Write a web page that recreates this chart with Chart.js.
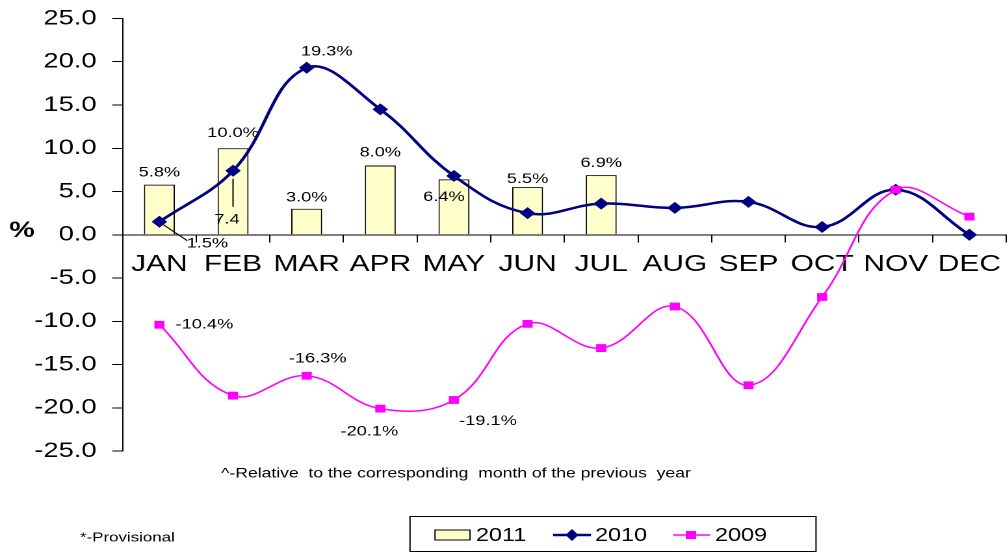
<!DOCTYPE html>
<html lang="en">
<head>
<meta charset="UTF-8">
<title>Monthly change relative to previous year</title>
<script src="https://cdn.jsdelivr.net/npm/chart.js"></script>
<style>
    html, body { margin: 0; padding: 0; background: #ffffff; overflow: hidden; }
    #wrap { width: 1008px; height: 553px; overflow: hidden; }
    /* the source picture is stretched sideways, so draw narrower and widen it */
    #chart { transform: scaleX(1.3); transform-origin: 0 0; }
</style>
</head>
<body>
<div id="wrap"><canvas id="chart" width="780" height="553"></canvas></div>
<script>
var STRETCH = 1.3;
var FONT = "'Liberation Sans', Arial, sans-serif";

var months = ['JAN', 'FEB', 'MAR', 'APR', 'MAY', 'JUN', 'JUL', 'AUG', 'SEP', 'OCT', 'NOV', 'DEC'];
var seriesNames = ['2011', '2010', '2009'];
var values2011 = [5.8, 10.0, 3.0, 8.0, 6.4, 5.5, 6.9, null, null, null, null, null];
var values2010 = [1.5, 7.4, 19.3, 14.5, 6.8, 2.5, 3.6, 3.1, 3.8, 0.9, 5.2, 0.0];
var values2009 = [-10.4, -18.6, -16.3, -20.1, -19.1, -10.3, -13.1, -8.3, -17.4, -7.2, 5.2, 2.1];
var yMin = -25, yMax = 25, yStep = 5;

var footNote = '^-Relative  to the corresponding  month of the previous  year';
var provisionalNote = '*-Provisional';

// which values get a text label; offsets are in picture pixels from the mark
var valueLabels = [
    { ds: 0, i: 0, dx: 0, dy: -12 },
    { ds: 0, i: 1, dx: 0, dy: -15 },
    { ds: 0, i: 2, dx: 0, dy: -11 },
    { ds: 0, i: 3, dx: 0, dy: -13 },
    { ds: 0, i: 4, dx: -10, dy: 18 },
    { ds: 0, i: 5, dx: 0, dy: -8 },
    { ds: 0, i: 6, dx: 0, dy: -12 },
    { ds: 1, i: 0, dx: 48, dy: 22, leader: [4, 3, 28, 19] },
    { ds: 1, i: 1, dx: -6, dy: 49, pct: false, leader: [0, 8, 0, 36] },
    { ds: 1, i: 2, dx: 20, dy: -16 },
    { ds: 2, i: 0, dx: 45, dy: 0 },
    { ds: 2, i: 2, dx: 11, dy: -17 },
    { ds: 2, i: 3, dx: -11, dy: 23 },
    { ds: 2, i: 4, dx: 34, dy: 21 }
];

var labelPlugin = {
    id: 'valueLabels',
    afterDatasetsDraw: function (chart) {
        var ctx = chart.ctx;
        ctx.save();
        ctx.font = '14px ' + FONT;
        ctx.fillStyle = '#000';
        ctx.strokeStyle = '#000';
        ctx.lineWidth = 1;
        ctx.textAlign = 'center';
        ctx.textBaseline = 'middle';
        valueLabels.forEach(function (l) {
            var el = chart.getDatasetMeta(l.ds).data[l.i];
            var v = chart.data.datasets[l.ds].data[l.i];
            var txt = v.toFixed(1) + (l.pct === false ? '' : '%');
            if (l.leader) {
                ctx.beginPath();
                ctx.moveTo(el.x + l.leader[0] / STRETCH, el.y + l.leader[1]);
                ctx.lineTo(el.x + l.leader[2] / STRETCH, el.y + l.leader[3]);
                ctx.stroke();
            }
            ctx.fillText(txt, el.x + l.dx / STRETCH, el.y + l.dy);
        });
        ctx.restore();
    }
};

var extrasPlugin = {
    id: 'extras',
    afterDraw: function (chart) {
        var ctx = chart.ctx;
        var ds = chart.data.datasets;
        var s = STRETCH;
        ctx.save();
        ctx.fillStyle = '#000';

        // axis title
        ctx.font = 'bold 22px ' + FONT;
        ctx.textAlign = 'center';
        ctx.textBaseline = 'middle';
        ctx.fillText('%', 22 / s, 231);

        // notes
        ctx.font = '13.5px ' + FONT;
        ctx.fillText(footNote, 456 / s, 474);
        ctx.font = '13px ' + FONT;
        ctx.textAlign = 'left';
        ctx.fillText(provisionalNote, 80 / s, 538);

        // legend box
        ctx.strokeStyle = '#000';
        ctx.lineWidth = 1;
        ctx.strokeRect(410 / s, 516.5, 406 / s, 35);
        ctx.font = '18px ' + FONT;
        ctx.textBaseline = 'middle';
        var cy = 535;

        ctx.fillStyle = ds[0].backgroundColor;
        ctx.fillRect(435 / s, cy - 5, 35 / s, 10);
        ctx.strokeRect(435 / s, cy - 5, 35 / s, 10);
        ctx.fillStyle = '#000';
        ctx.fillText(ds[0].label, 476 / s, cy + 1);

        ctx.strokeStyle = ds[1].borderColor;
        ctx.lineWidth = 2.5;
        ctx.beginPath();
        ctx.moveTo(553 / s, cy); ctx.lineTo(591 / s, cy); ctx.stroke();
        ctx.fillStyle = ds[1].borderColor;
        ctx.beginPath();
        ctx.moveTo(572 / s, cy - 6); ctx.lineTo(572 / s + 5, cy);
        ctx.lineTo(572 / s, cy + 6); ctx.lineTo(572 / s - 5, cy);
        ctx.closePath(); ctx.fill();
        ctx.fillStyle = '#000';
        ctx.fillText(ds[1].label, 595 / s, cy + 1);

        ctx.strokeStyle = ds[2].borderColor;
        ctx.lineWidth = 1.5;
        ctx.beginPath();
        ctx.moveTo(673 / s, cy); ctx.lineTo(710 / s, cy); ctx.stroke();
        ctx.fillStyle = ds[2].borderColor;
        ctx.fillRect(691 / s - 4, cy - 4, 8, 8);
        ctx.fillStyle = '#000';
        ctx.fillText(ds[2].label, 715 / s, cy + 1);

        ctx.restore();
    }
};

new Chart(document.getElementById('chart'), {
    type: 'bar',
    data: {
        labels: months,
        datasets: [{
            type: 'bar',
            label: seriesNames[0],
            data: values2011,
            backgroundColor: '#FFFFCC',
            borderColor: '#000000',
            borderWidth: 1,
            categoryPercentage: 1.0,
            barPercentage: 0.42,
            order: 2
        }, {
            type: 'line',
            label: seriesNames[1],
            data: values2010,
            borderColor: '#000080',
            backgroundColor: '#000080',
            borderWidth: 2.5,
            tension: 0.4,
            pointStyle: 'rectRot',
            pointRadius: 6,
            pointBorderWidth: 0,
            order: 1
        }, {
            type: 'line',
            label: seriesNames[2],
            data: values2009,
            borderColor: '#FF00FF',
            backgroundColor: '#FF00FF',
            borderWidth: 1.5,
            tension: 0.4,
            pointStyle: 'rect',
            pointRadius: 5.5,
            pointBorderWidth: 0,
            order: 0
        }]
    },
    options: {
        responsive: false,
        devicePixelRatio: 2,
        animation: false,
        layout: { padding: { top: 18.5, bottom: 102, left: 0, right: 0 } },
        plugins: {
            legend: { display: false },
            tooltip: { enabled: false }
        },
        scales: {
            x: {
                type: 'category',
                position: { y: 0 },
                offset: true,
                grid: { display: true, drawOnChartArea: false, offset: true, tickLength: 7, color: '#000' },
                border: { display: true, color: '#000', width: 1 },
                ticks: {
                    color: '#000',
                    font: { family: FONT, size: 23 },
                    padding: 9,
                    maxRotation: 0,
                    autoSkip: false
                }
            },
            y: {
                min: yMin,
                max: yMax,
                grid: { display: true, drawOnChartArea: false, tickLength: 8, color: '#000' },
                border: { display: true, color: '#000', width: 1 },
                ticks: {
                    stepSize: yStep,
                    color: '#000',
                    padding: 12,
                    font: { family: FONT, size: 21 },
                    callback: function (v) { return v.toFixed(1); }
                },
                afterFit: function (scale) {
                    scale.width = 94.3;
                    scale.paddingTop = 0;
                    scale.paddingBottom = 0;
                }
            }
        }
    },
    plugins: [labelPlugin, extrasPlugin]
});
</script>
</body>
</html>
